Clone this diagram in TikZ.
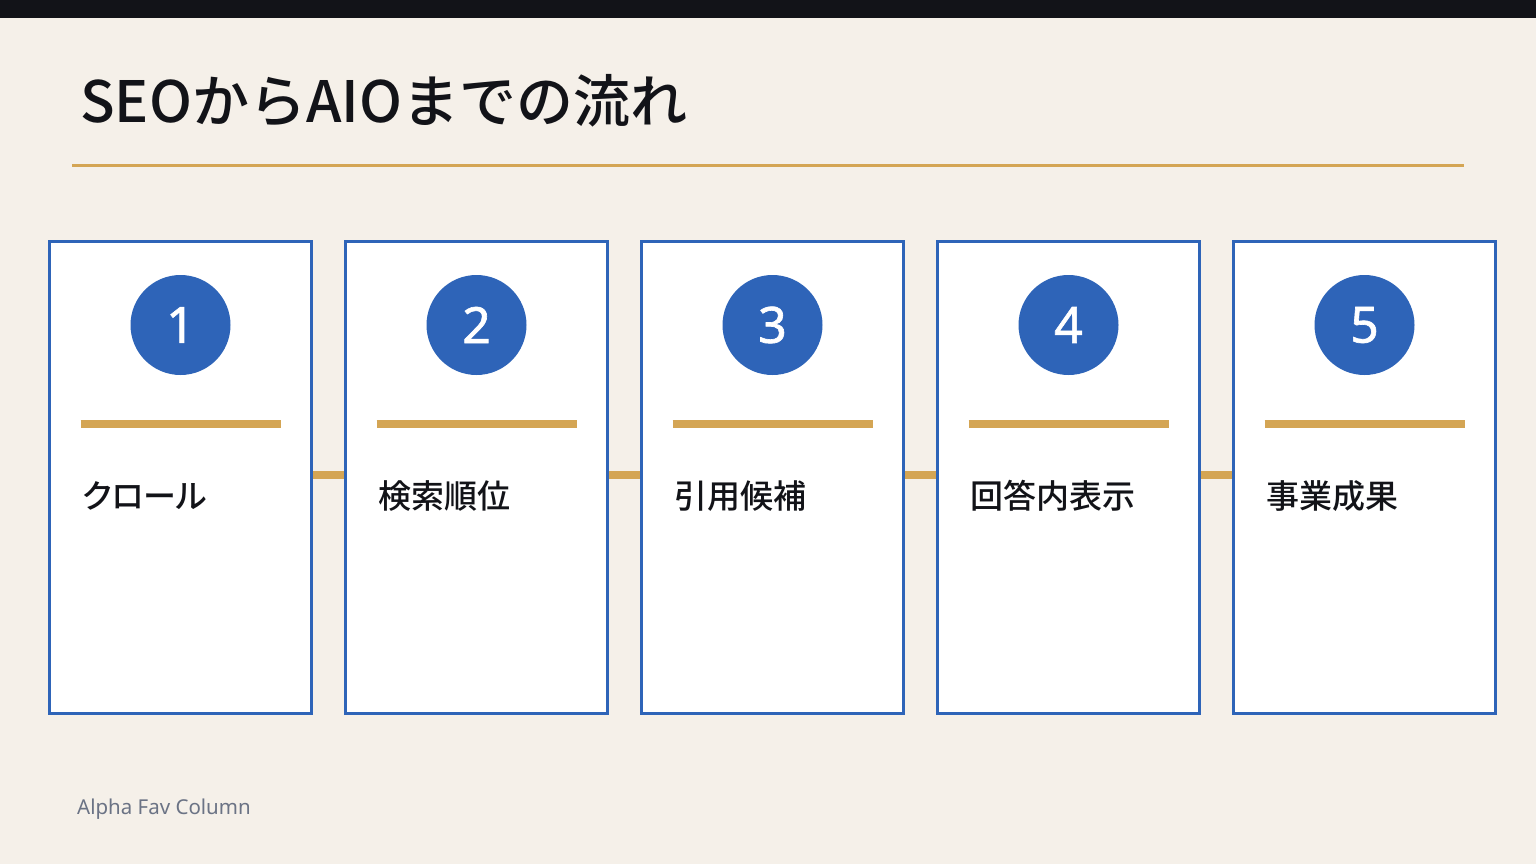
\documentclass[tikz,border=0pt]{standalone}
\usepackage{fontspec}
\setmainfont{Noto Sans}
\newfontfamily\jpfont{Noto Sans CJK JP}[UprightFont={* Medium}]
\newfontfamily\jplab{Noto Sans CJK JP}[UprightFont={* Medium},RawFeature=+palt]
\newfontfamily\numfont{Noto Sans}[FakeBold=1.3]
\definecolor{bgc}{HTML}{F5F0E9}
\definecolor{topc}{HTML}{121318}
\definecolor{goldc}{HTML}{D4A554}
\definecolor{bluec}{HTML}{2E64B8}
\definecolor{inkc}{HTML}{121318}
\definecolor{footc}{HTML}{6B7385}
\begin{document}
\begin{tikzpicture}[x=1pt,y=-1pt,
  stepcard/.style={draw=bluec,fill=white,line width=3pt,inner sep=0pt,minimum width=262pt,minimum height=472pt,outer sep=1.5pt},
  numdisc/.style={circle,fill=bluec,minimum size=100pt,inner sep=0pt,text=white,font=\numfont\fontsize{50}{50}\selectfont},
  goldbar/.style={draw=goldc,line width=7.5pt},
  steplabel/.style={anchor=base west,inner sep=0pt,text=inkc,font=\jplab\fontsize{33}{33}\selectfont},
  linkbar/.style={draw=goldc,line width=8pt}
]
\useasboundingbox (0,0) rectangle (1536,864);
\fill[bgc] (0,0) rectangle (1536,864);
\fill[topc] (0,0) rectangle (1536,18);
\node[anchor=base west,inner sep=0pt,text=inkc,font=\jpfont\fontsize{57}{57}\selectfont] (title) at (80,123) {SEOからAIOまでの流れ};
\draw[goldc,line width=3pt] (72,165) coordinate (ruleL) -- (1464,165) coordinate (ruleR);
\foreach \i/\t in {1/クロール,2/検索順位,3/引用候補,4/回答内表示,5/事業成果}{
  \pgfmathsetmacro{\cx}{180.5+296*(\i-1)}
  \node[stepcard] (box\i) at (\cx,477.5) {};
  \node[numdisc] (num\i) at (\cx,325) {\raisebox{-2pt}{\i}};
  \draw[goldbar] (\cx-100,424) coordinate (barL\i) -- (\cx+100,424) coordinate (barR\i);
  \node[steplabel] (lab\i) at (\cx-98.5,508) {\t};
}
\foreach \i/\j in {1/2,2/3,3/4,4/5}{
  \draw[linkbar] ([yshift=2.5pt]box\i.east) -- ([yshift=2.5pt]box\j.west);
}
\node[anchor=base west,inner sep=0pt,text=footc,font=\fontsize{20.5}{20.5}\selectfont] (foot) at (77,814) {Alpha Fav Column};
\end{tikzpicture}
\end{document}
